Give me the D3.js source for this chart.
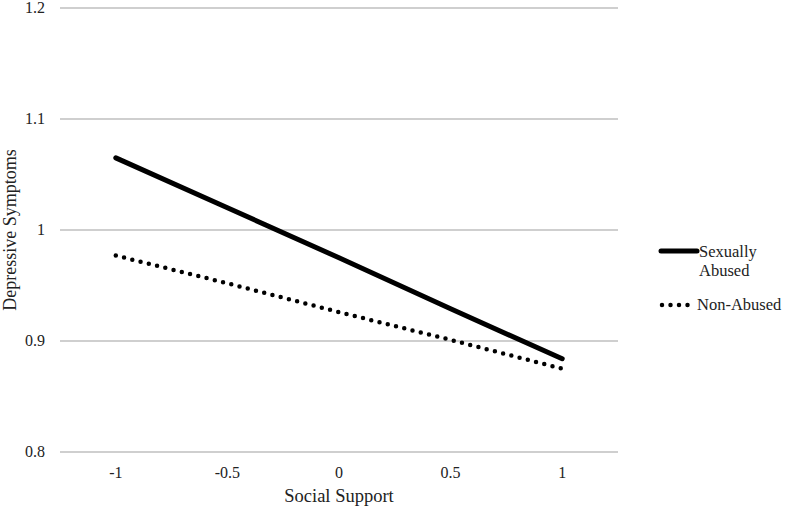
<!DOCTYPE html>
<html>
<head>
<meta charset="utf-8">
<script src="https://cdn.jsdelivr.net/npm/d3@7"></script>
<style>
  body { margin: 0; background: #fff; }
  text { font-family: "Liberation Serif", "Times New Roman", serif; fill: #222; }
</style>
</head>
<body>
<svg width="787" height="508"></svg>
<script>
var categories = ["-1", "-0.5", "0", "0.5", "1"];
var abused = [1.065, 1.020, 0.975, 0.929, 0.884];
var nonAbused = [0.977, 0.952, 0.926, 0.901, 0.875];
var yTicks = [0.8, 0.9, 1, 1.1, 1.2];

var svg = d3.select("svg");
var plotLeft = 60, plotRight = 618, plotTop = 8, plotBottom = 452;

var x = d3.scaleBand().domain(categories).range([plotLeft, plotRight]);
var y = d3.scaleLinear().domain([0.8, 1.2]).range([plotBottom, plotTop]);

// gridlines
svg.append("g")
  .selectAll("line")
  .data(yTicks)
  .enter()
  .append("line")
  .attr("x1", plotLeft)
  .attr("x2", plotRight)
  .attr("y1", d => y(d))
  .attr("y2", d => y(d))
  .attr("stroke", "#bfbfbf")
  .attr("stroke-width", 1.5);

// y tick labels
svg.append("g")
  .selectAll("text")
  .data(yTicks)
  .enter()
  .append("text")
  .attr("x", 45)
  .attr("y", d => y(d) + 5)
  .attr("text-anchor", "end")
  .attr("font-size", "16px")
  .text(d => d3.format("")(d));

// x tick labels
svg.append("g")
  .selectAll("text")
  .data(categories)
  .enter()
  .append("text")
  .attr("x", d => x(d) + x.bandwidth() / 2)
  .attr("y", 478)
  .attr("text-anchor", "middle")
  .attr("font-size", "16px")
  .text(d => d);

// axis titles
svg.append("text")
  .attr("x", (plotLeft + plotRight) / 2)
  .attr("y", 502)
  .attr("text-anchor", "middle")
  .attr("font-size", "18.5px")
  .text("Social Support");

svg.append("text")
  .attr("transform", "translate(16," + (plotTop + plotBottom) / 2 + ") rotate(-90)")
  .attr("text-anchor", "middle")
  .attr("font-size", "18px")
  .text("Depressive Symptoms");

var line = d3.line()
  .x((d, i) => x(categories[i]) + x.bandwidth() / 2)
  .y(d => y(d));

svg.append("path")
  .datum(abused)
  .attr("d", line)
  .attr("fill", "none")
  .attr("stroke", "#000")
  .attr("stroke-width", 5)
  .attr("stroke-linecap", "round");

svg.append("path")
  .datum(nonAbused)
  .attr("d", line)
  .attr("fill", "none")
  .attr("stroke", "#000")
  .attr("stroke-width", 4.5)
  .attr("stroke-linecap", "round")
  .attr("stroke-dasharray", "0,8.5");

// legend
var lg = svg.append("g");
lg.append("line")
  .attr("x1", 661).attr("x2", 697)
  .attr("y1", 251).attr("y2", 251)
  .attr("stroke", "#000").attr("stroke-width", 5)
  .attr("stroke-linecap", "round");
lg.append("text").attr("x", 699).attr("y", 257).attr("font-size", "16.5px").text("Sexually");
lg.append("text").attr("x", 699).attr("y", 276).attr("font-size", "16.5px").text("Abused");

lg.append("line")
  .attr("x1", 662).attr("x2", 688)
  .attr("y1", 305).attr("y2", 305)
  .attr("stroke", "#000").attr("stroke-width", 4.5)
  .attr("stroke-linecap", "round")
  .attr("stroke-dasharray", "0,8.5");
lg.append("text").attr("x", 697).attr("y", 310).attr("font-size", "16.5px").text("Non-Abused");
</script>
</body>
</html>
